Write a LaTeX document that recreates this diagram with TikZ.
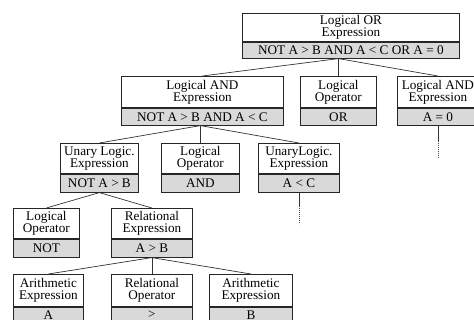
\documentclass[tikz,border=0pt]{standalone}
\usepackage{fontspec}
\setmainfont{Liberation Serif}
\begin{document}
\begin{tikzpicture}[x=1pt,y=-1pt,
  boxfont/.style={font=\fontsize{13.2}{12}\selectfont},
  titlebox/.style={boxfont, draw=black!85, fill=white, line width=0.8pt,
    inner sep=0pt, anchor=north west, align=center},
  valbox/.style={boxfont, draw=black!85, fill=black!15, line width=0.8pt,
    inner sep=0pt, anchor=north west},
  link/.style={draw=black!80, line width=0.7pt},
  dotlink/.style={draw=black!70, line width=0.7pt, dash pattern=on 0.8pt off 1.2pt}]

% expression box: name, left x, top y, width, title height, value height, title, value
\newcommand\exprbox[8]{%
  \node[titlebox, minimum width=#4pt, minimum height=#5pt] (#1-t) at (#2,#3) {#7};
  \node[valbox, minimum width=#4pt, minimum height=#6pt] (#1-v) at (#1-t.south west) {#8};
}

\useasboundingbox (0,0) rectangle (474,320);
\clip (0,0) rectangle (474,320);

% level 1
\exprbox{lor}{242}{13}{217}{28}{16}{Logical OR\\Expression}{NOT A > B AND A < C OR A = 0}
% level 2
\exprbox{land}{121}{76}{162}{31}{17}{Logical AND\\Expression}{NOT A > B AND A < C}
\exprbox{lop}{300}{76}{76}{31}{17}{Logical\\Operator}{OR}
\exprbox{rand}{397}{76}{81}{31}{17}{Logical AND\\Expression}{A = 0}
% level 3
\exprbox{ule}{60}{143}{78}{30}{18}{Unary Logic.\\Expression}{NOT A > B}
\exprbox{aop}{161}{143}{78}{30}{18}{Logical\\Operator}{AND}
\exprbox{ule2}{258}{143}{81}{30}{18}{UnaryLogic.\\Expression}{A < C}
% level 4
\exprbox{nop}{13}{208}{66}{30}{18}{Logical\\Operator}{NOT}
\exprbox{rel}{111}{208}{81}{30}{18}{Relational\\Expression}{A > B}
% level 5
\exprbox{ar1}{13}{274}{70}{32}{15}{Arithmetic\\Expression}{A}
\exprbox{rop}{111}{274}{81}{32}{15}{Relational\\Operator}{>}
\exprbox{ar2}{209}{274}{83}{32}{15}{Arithmetic\\Expression}{B}

% connectors
\coordinate (lor-out) at (lor-v.south -| lop-t.north);
\draw[link] (lor-out) -- (land-t.north);
\draw[link] (lor-out) -- (lop-t.north);
\draw[link] (lor-out) -- (rand-t.north);

\coordinate (land-out) at (land-v.south -| aop-t.north);
\draw[link] (land-out) -- (ule-t.north);
\draw[link] (land-out) -- (aop-t.north);
\draw[link] (land-out) -- (ule2-t.north);

\draw[link] (ule-v.south) -- (nop-t.north);
\draw[link] (ule-v.south) -- (rel-t.north);

\draw[link] (rel-v.south) -- (ar1-t.north);
\draw[link] (rel-v.south) -- (rop-t.north);
\draw[link] (rel-v.south) -- (ar2-t.north);

% subtrees left out
\draw[link] (rand-v.south) -- ++(0,15) coordinate (rand-cut);
\draw[dotlink] (rand-cut) -- ++(0,17);
\draw[link] (ule2-v.south) -- ++(0,13) coordinate (ule2-cut);
\draw[dotlink] (ule2-cut) -- ++(0,18);
\end{tikzpicture}
\end{document}
